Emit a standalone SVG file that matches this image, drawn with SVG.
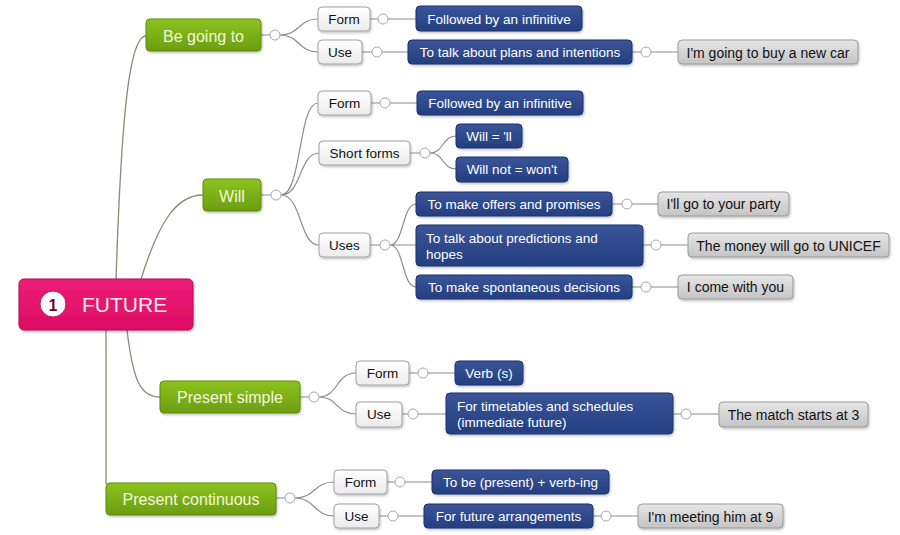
<svg xmlns="http://www.w3.org/2000/svg" width="900" height="535" viewBox="0 0 900 535">
<defs>
<linearGradient id="gGreen" x1="0" y1="0" x2="0" y2="1"><stop offset="0" stop-color="#8cc21f"/><stop offset="1" stop-color="#6c9e0f"/></linearGradient>
<linearGradient id="gBlue" x1="0" y1="0" x2="0" y2="1"><stop offset="0" stop-color="#3a5598"/><stop offset="1" stop-color="#243f80"/></linearGradient>
<linearGradient id="gGray" x1="0" y1="0" x2="0" y2="1"><stop offset="0" stop-color="#e6e6e6"/><stop offset="1" stop-color="#c4c4c4"/></linearGradient>
<linearGradient id="gWhite" x1="0" y1="0" x2="0" y2="1"><stop offset="0" stop-color="#ffffff"/><stop offset="1" stop-color="#ececec"/></linearGradient>
<linearGradient id="gPink" x1="0" y1="0" x2="0" y2="1"><stop offset="0" stop-color="#ee1d78"/><stop offset="1" stop-color="#dc0d62"/></linearGradient>
<filter id="sh" x="-10%" y="-20%" width="130%" height="150%"><feDropShadow dx="1" dy="1.5" stdDeviation="1.2" flood-color="#000" flood-opacity="0.25"/></filter>
</defs>
<style>
text{font-family:"Liberation Sans",Arial,sans-serif;dominant-baseline:central}
.green rect{fill:url(#gGreen);stroke:#5e8c0c;stroke-width:1;filter:url(#sh)}
.green text{fill:#f2f7dc;font-size:16px;text-anchor:middle}
.blue rect{fill:url(#gBlue);stroke:#1d3270;stroke-width:1;filter:url(#sh)}
.blue text{fill:#ffffff;font-size:13.5px}
.gray rect{fill:url(#gGray);stroke:#9a9a9a;stroke-width:1;filter:url(#sh)}
.gray text{fill:#111;font-size:14px;text-anchor:middle}
.white rect{fill:url(#gWhite);stroke:#a0a0a0;stroke-width:1;filter:url(#sh)}
.white text{fill:#111;font-size:13.5px;text-anchor:middle}
.c{fill:none;stroke:#8c8c8c;stroke-width:1.2}
.trunk{fill:none;stroke:#8a8a72;stroke-width:1.3}
.k{fill:#fff;stroke:#a8a8a8;stroke-width:1}
</style>
<rect width="900" height="535" fill="#ffffff"/>
<g id="connectors">
<path class="trunk" d="M116,279 C121,130 128,36 146,36"/>
<path class="trunk" d="M141,279 C158,225 175,195 203,195"/>
<path class="trunk" d="M106,330 L106,484"/>
<path class="trunk" d="M127,330 C133,380 140,397 160,397"/>
<path class="c" d="M261,35 H270 M280,35 C300,35 298,19 318,19 M280,35 C300,35 298,52 318,52"/>
<path class="c" d="M370,19 H378 M388,19 H416 M362,52 H372 M382,52 H408 M632,52 H641 M651,52 H678"/>
<circle class="k" cx="275" cy="35" r="5"/><circle class="k" cx="383" cy="19" r="5"/><circle class="k" cx="377" cy="52" r="5"/><circle class="k" cx="646" cy="52" r="5"/>
<path class="c" d="M261,195 H271 M281,195 C302,195 298,103 318,103 M281,195 C302,195 299,153 319,153 M281,195 C302,195 299,245 319,245"/>
<path class="c" d="M371,103 H380 M390,103 H417 M410,153 H420 M430,153 C444,153 442,136 456,136 M430,153 C444,153 442,169 456,169"/>
<path class="c" d="M370,245 H380 M390,245 C404,245 402,204 416,204 M390,245 H416 M390,245 C404,245 402,287 416,287"/>
<path class="c" d="M612,204 H622 M632,204 H658 M643,245 H651 M661,245 H688 M632,287 H641 M651,287 H678"/>
<circle class="k" cx="276" cy="195" r="5"/><circle class="k" cx="385" cy="103" r="5"/><circle class="k" cx="425" cy="153" r="5"/><circle class="k" cx="385" cy="245" r="5"/>
<circle class="k" cx="627" cy="204" r="5"/><circle class="k" cx="656" cy="245" r="5"/><circle class="k" cx="646" cy="287" r="5"/>
<path class="c" d="M300,397 H309 M319,397 C338,397 336,373 356,373 M319,397 C338,397 336,414 356,414"/>
<path class="c" d="M409,373 H418 M428,373 H455 M402,414 H408 M418,414 H446 M673,414 H681 M691,414 H719"/>
<circle class="k" cx="314" cy="397" r="5"/><circle class="k" cx="423" cy="373" r="5"/><circle class="k" cx="413" cy="414" r="5"/><circle class="k" cx="686" cy="414" r="5"/>
<path class="c" d="M276,498 H285 M295,498 C315,498 314,482 334,482 M295,498 C315,498 314,516 334,516"/>
<path class="c" d="M387,482 H395 M405,482 H432 M379,516 H388 M398,516 H424 M593,516 H601 M611,516 H638"/>
<circle class="k" cx="290" cy="498" r="5"/><circle class="k" cx="400" cy="482" r="5"/><circle class="k" cx="393" cy="516" r="5"/><circle class="k" cx="606" cy="516" r="5"/>
</g>

<g id="future">
<rect x="19" y="279" width="174" height="51" rx="5" fill="url(#gPink)" stroke="#b50a52" stroke-width="1" filter="url(#sh)"/>
<circle cx="53" cy="304" r="13" fill="#fff" stroke="#c01060" stroke-width="1"/>
<text x="53" y="305" font-size="16" font-weight="bold" fill="#6a0a2a" text-anchor="middle">1</text>
<text x="82" y="304" font-size="21" fill="#fbe6f0">FUTURE</text>
</g>

<g id="be-going-to" class="green"><rect x="146" y="19" width="115" height="32" rx="4"/><text x="203.5" y="36">Be going to</text></g>
<g id="bgt-form" class="white"><rect x="318" y="7" width="52" height="24" rx="4"/><text x="344" y="19.5">Form</text></g>
<g id="bgt-use" class="white"><rect x="318" y="40" width="44" height="24" rx="4"/><text x="340" y="52.5">Use</text></g>
<g id="bgt-form-1" class="blue"><rect x="416" y="6" width="166" height="25" rx="4"/><text x="499" y="19" text-anchor="middle">Followed by an infinitive</text></g>
<g id="bgt-use-1" class="blue"><rect x="408" y="40" width="224" height="24" rx="4"/><text x="520" y="52.5" text-anchor="middle">To talk about plans and intentions</text></g>
<g id="bgt-ex" class="gray"><rect x="678" y="40" width="180" height="24" rx="4"/><text x="768" y="52.5">I'm going to buy a new car</text></g>

<g id="will" class="green"><rect x="203" y="179" width="58" height="32" rx="4"/><text x="232" y="196">Will</text></g>
<g id="will-form" class="white"><rect x="318" y="91" width="53" height="24" rx="4"/><text x="344.5" y="103.5">Form</text></g>
<g id="will-short" class="white"><rect x="319" y="141" width="91" height="24" rx="4"/><text x="364.5" y="153.5">Short forms</text></g>
<g id="will-uses" class="white"><rect x="319" y="233" width="51" height="24" rx="4"/><text x="344.5" y="245.5">Uses</text></g>
<g id="will-form-1" class="blue"><rect x="417" y="91" width="166" height="24" rx="4"/><text x="500" y="103.5" text-anchor="middle">Followed by an infinitive</text></g>
<g id="will-ll" class="blue"><rect x="456" y="124" width="66" height="24" rx="4"/><text x="489" y="136.5" text-anchor="middle">Will = 'll</text></g>
<g id="will-wont" class="blue"><rect x="456" y="157" width="112" height="25" rx="4"/><text x="512" y="169.5" text-anchor="middle">Will not = won't</text></g>
<g id="will-offers" class="blue"><rect x="416" y="192" width="196" height="24" rx="4"/><text x="514" y="204" text-anchor="middle">To make offers and promises</text></g>
<g id="will-predict" class="blue"><rect x="416" y="225" width="227" height="41" rx="4"/><text x="426" y="238">To talk about predictions and</text><text x="426" y="254">hopes</text></g>
<g id="will-spont" class="blue"><rect x="416" y="275" width="216" height="24" rx="4"/><text x="524" y="287" text-anchor="middle">To make spontaneous decisions</text></g>
<g id="will-ex1" class="gray"><rect x="658" y="192" width="131" height="24" rx="4"/><text x="723.5" y="204">I'll go to your party</text></g>
<g id="will-ex2" class="gray"><rect x="688" y="233" width="201" height="24" rx="4"/><text x="788.5" y="245.5">The money will go to UNICEF</text></g>
<g id="will-ex3" class="gray"><rect x="678" y="275" width="115" height="24" rx="4"/><text x="735.5" y="287">I come with you</text></g>

<g id="present-simple" class="green"><rect x="160" y="381" width="140" height="32" rx="4"/><text x="230" y="397.5">Present simple</text></g>
<g id="ps-form" class="white"><rect x="356" y="361" width="53" height="24" rx="4"/><text x="382.5" y="373">Form</text></g>
<g id="ps-use" class="white"><rect x="356" y="402" width="46" height="25" rx="4"/><text x="379" y="414.5">Use</text></g>
<g id="ps-form-1" class="blue"><rect x="455" y="361" width="68" height="24" rx="4"/><text x="489" y="373" text-anchor="middle">Verb (s)</text></g>
<g id="ps-use-1" class="blue"><rect x="446" y="393" width="227" height="41" rx="4"/><text x="457" y="406">For timetables and schedules</text><text x="457" y="422">(immediate future)</text></g>
<g id="ps-ex" class="gray"><rect x="719" y="402" width="149" height="25" rx="4"/><text x="793.5" y="414.5">The match starts at 3</text></g>

<g id="present-continuous" class="green"><rect x="106" y="483" width="170" height="32" rx="4"/><text x="191" y="499">Present continuous</text></g>
<g id="pc-form" class="white"><rect x="334" y="470" width="53" height="24" rx="4"/><text x="360.5" y="482.5">Form</text></g>
<g id="pc-use" class="white"><rect x="334" y="504" width="45" height="24" rx="4"/><text x="356.5" y="516.5">Use</text></g>
<g id="pc-form-1" class="blue"><rect x="432" y="470" width="177" height="24" rx="4"/><text x="520.5" y="482.5" text-anchor="middle">To be (present) + verb-ing</text></g>
<g id="pc-use-1" class="blue"><rect x="424" y="504" width="169" height="24" rx="4"/><text x="508.5" y="516.5" text-anchor="middle">For future arrangements</text></g>
<g id="pc-ex" class="gray"><rect x="638" y="504" width="145" height="24" rx="4"/><text x="710.5" y="516.5">I'm meeting him at 9</text></g>
</svg>
